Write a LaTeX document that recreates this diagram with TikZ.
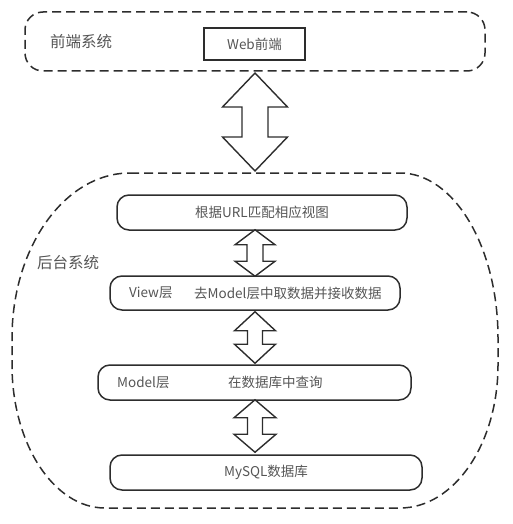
\documentclass[tikz,border=0pt]{standalone}
\usepackage{fontspec}
\setmainfont{Noto Sans CJK SC}
\usetikzlibrary{calc}
\definecolor{txt}{RGB}{85,85,85}
\definecolor{ln}{RGB}{45,45,45}
\tikzset{
  container/.style={draw=ln, line width=1.5pt, dash pattern=on 9pt off 5pt},
  layerbox/.style={draw=ln, line width=1.5pt, rounded corners=12pt, minimum height=35pt, inner sep=0pt},
  webbox/.style={draw=ln, line width=1.5pt, minimum width=101pt, minimum height=32pt, inner sep=0pt},
  boxtext/.style={text=txt, font=\fontsize{13.5pt}{15pt}\selectfont, inner sep=0pt},
  grouptext/.style={text=txt, font=\fontsize{15.5pt}{17pt}\selectfont, inner sep=0pt},
  fatarrow/.style={draw=ln, line width=1.4pt, fill=white, line join=miter},
}
% \fatarr{top tip}{bottom tip}{head half width}{shaft half width}{head length}
\newcommand{\fatarr}[5]{%
  \draw[fatarrow] (#1) -- ++(#3,#5) -- ++(-#3+#4,0) -- ($(#2)+(#4,-#5)$) -- ++(#3-#4,0) -- (#2)
    -- ++(-#3,-#5) -- ++(#3-#4,0) -- ($(#1)+(-#4,#5)$) -- ++(-#3+#4,0) -- cycle;}
\begin{document}
\begin{tikzpicture}[x=1pt,y=-1pt]
\useasboundingbox (0,0) rectangle (513,524);
% front-end container
\node[container, rounded corners=18pt, minimum width=460pt, minimum height=59pt, inner sep=0pt] (front) at (255,41.5) {};
\node[grouptext] (frontlbl) at (81,42) {前端系统};
\node[webbox] (web) at (254.5,44) {};
\node[boxtext] (webtxt) at (254.5,44) {Web前端};
% back-end container
\draw[container] (130,173) -- (400,173) .. controls (454,173) and (498,247) .. (498,338)
  -- (498,365) .. controls (498,444) and (454,508) .. (400,508)
  -- (105,508) .. controls (54,508) and (12,444) .. (12,365)
  -- (12,338) .. controls (12,247) and (65,173) .. (130,173) -- cycle;
\coordinate (backtop) at (255,171);
\node[grouptext] (backlbl) at (68,263) {后台系统};
% layer boxes
\node[layerbox, minimum width=290pt] (url) at (262,212.5) {};
\node[boxtext] (urltxt) at (262,212.5) {根据URL匹配相应视图};
\node[layerbox, minimum width=290pt, minimum height=34pt] (view) at (255,293) {};
\node[boxtext, anchor=west] (viewa) at (129,293) {View层};
\node[boxtext, anchor=west] (viewb) at (194,293) {去Model层中取数据并接收数据};
\node[layerbox, minimum width=313pt] (model) at (254.5,382.5) {};
\node[boxtext, anchor=west] (modela) at (117,382.5) {Model层};
\node[boxtext, anchor=west] (modelb) at (228,382.5) {在数据库中查询};
\node[layerbox, minimum width=312pt] (mysql) at (266,472.5) {};
\node[boxtext] (mysqltxt) at (266,472.5) {MySQL数据库};
% arrows
\coordinate (axis) at (255,0);
\coordinate (t0) at (255,73);
\coordinate (b0) at (axis |- backtop);
\fatarr{t0}{b0}{32.5}{13}{34}
\coordinate (t1) at ($(axis |- url.south)+(0,-1)$);
\coordinate (b1) at ($(axis |- view.north)+(0,1)$);
\fatarr{t1}{b1}{20}{8}{15}
\coordinate (t2) at ($(axis |- view.south)+(0,1)$);
\coordinate (b2) at ($(axis |- model.north)+(0,-1)$);
\fatarr{t2}{b2}{20.5}{7.5}{19}
\coordinate (t3) at ($(axis |- model.south)+(0,-1)$);
\coordinate (b3) at ($(axis |- mysql.north)+(0,-2)$);
\fatarr{t3}{b3}{21}{7.5}{18}
\end{tikzpicture}
\end{document}
